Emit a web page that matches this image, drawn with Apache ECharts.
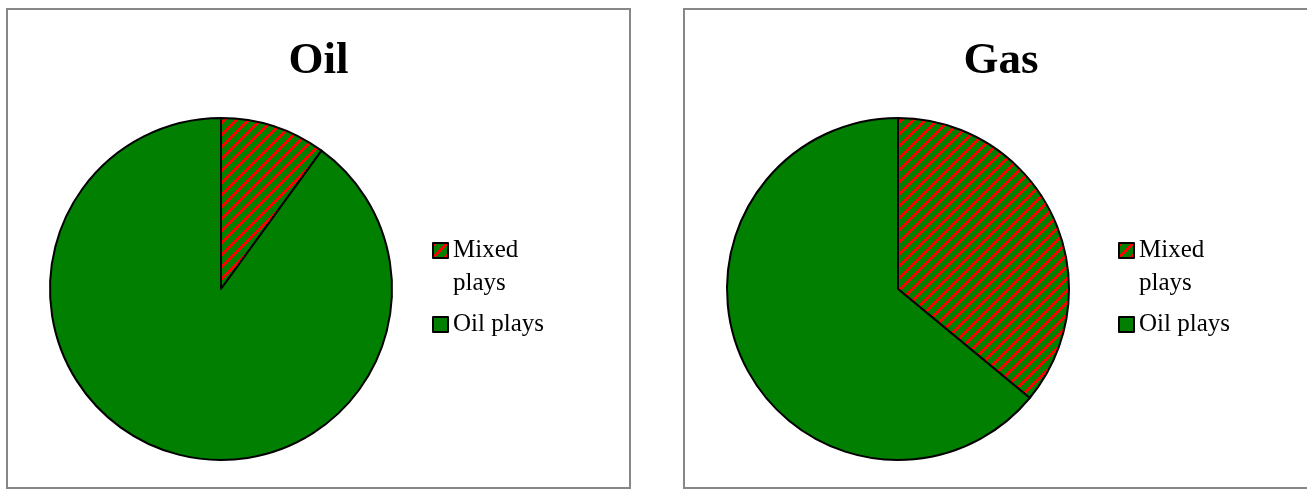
<!DOCTYPE html>
<html>
<head>
<meta charset="utf-8">
<script src="https://cdn.jsdelivr.net/npm/echarts@6/dist/echarts.min.js"></script>
<style>
  html, body { margin: 0; padding: 0; background: #fff; width: 1307px; height: 489px; overflow: hidden; }
  .panel { position: absolute; top: 8px; height: 477px; border: 2px solid #878787; background: #fff; }
  #oil { left: 6px; width: 621px; }
  #gas { left: 683px; width: 632px; }
</style>
</head>
<body>
<div id="oil" class="panel"></div>
<div id="gas" class="panel"></div>
<script>
// Share of plays by type, per commodity
const categories = ['Mixed plays', 'Oil plays'];
const oilValues = [10, 90];
const gasValues = [36, 64];
const chartTitles = ['Oil', 'Gas'];

const GREEN = '#007f00';

// Diagonal red hatching on green, rising to the right
function makeHatch() {
  const size = 12, stripe = 4;
  const c = document.createElement('canvas');
  c.width = size; c.height = size;
  const ctx = c.getContext('2d');
  const img = ctx.createImageData(size, size);
  for (let y = 0; y < size; y++) {
    for (let x = 0; x < size; x++) {
      const i = (y * size + x) * 4;
      const red = ((x + y) % size) < stripe;
      img.data[i] = red ? 255 : 0;
      img.data[i + 1] = red ? 0 : 127;
      img.data[i + 2] = 0;
      img.data[i + 3] = 255;
    }
  }
  ctx.putImageData(img, 0, 0);
  return { image: c, repeat: 'repeat' };
}
const hatch = makeHatch();

// Two-word legend names wrap; an empty first line keeps the first word level with the swatch
function legendLabel(name) {
  const words = name.split(' ');
  return name === categories[0] ? '\n' + words.join('\n') : name;
}

function buildOption(title, values, legendLeft) {
  return {
    animation: false,
    title: {
      text: title,
      left: 'center',
      top: 29,
      padding: 0,
      textStyle: { fontFamily: 'Liberation Serif', fontWeight: 'bold', fontSize: 45, color: '#000' }
    },
    legend: {
      orient: 'vertical',
      left: legendLeft,
      top: 191,
      padding: 0,
      itemGap: 8,
      itemWidth: 15,
      itemHeight: 15,
      icon: 'rect',
      selectedMode: false,
      itemStyle: { borderColor: '#000', borderWidth: 2 },
      formatter: legendLabel,
      textStyle: { fontFamily: 'Liberation Serif', fontSize: 25, lineHeight: 33, color: '#000' },
      data: categories
    },
    series: [{
      type: 'pie',
      center: [213, 279],
      radius: 171,
      startAngle: 90,
      clockwise: true,
      label: { show: false },
      labelLine: { show: false },
      emphasis: { disabled: true },
      silent: true,
      itemStyle: { borderColor: '#000', borderWidth: 2 },
      data: [
        { name: categories[0], value: values[0], itemStyle: { color: hatch } },
        { name: categories[1], value: values[1], itemStyle: { color: GREEN } }
      ]
    }]
  };
}

const oilChart = echarts.init(document.getElementById('oil'), null, { renderer: 'canvas' });
oilChart.setOption(buildOption(chartTitles[0], oilValues, 424));
const gasChart = echarts.init(document.getElementById('gas'), null, { renderer: 'canvas' });
gasChart.setOption(buildOption(chartTitles[1], gasValues, 433));
</script>
</body>
</html>
